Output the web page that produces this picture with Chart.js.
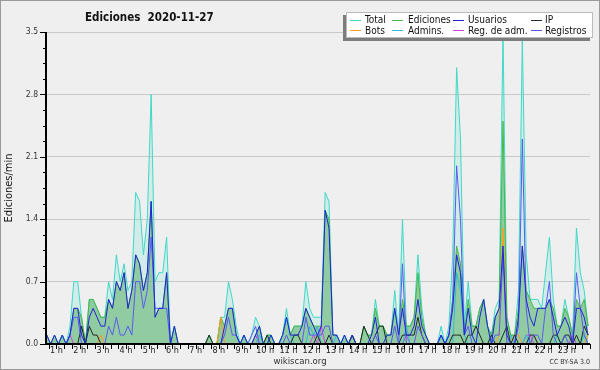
<!DOCTYPE html>
<html>
<head>
<meta charset="utf-8">
<script src="https://cdn.jsdelivr.net/npm/chart.js@4/dist/chart.umd.min.js"></script>
<style>
  html, body { margin: 0; padding: 0; background: #efefef; }
</style>
</head>
<body>
<canvas id="chart" width="600" height="370"></canvas>
<script>
// edits per minute, one value per 10-minute slot (00:00 ... 23:50)
const total = [
  0,0,0,0.1,0,0.1, 0,0.1,0,0.2,0.7,0.7,
  0.3,0,0.5,0.5,0.4,0.3, 0.3,0.7,0.5,1.0,0.7,0.9,
  0.6,0.7,1.7,1.6,1.0,1.4, 2.8,0.7,0.8,0.8,1.2,0,
  0.2,0,0,0,0,0, 0,0,0,0.1,0,0,
  0.3,0.3,0.7,0.5,0.2,0, 0.1,0,0.1,0.3,0.2,0,
  0.1,0.1,0,0,0.1,0.4, 0.1,0.2,0.2,0.2,0.7,0.4,
  0.3,0.3,0.3,1.7,1.6,0.1, 0.1,0,0.1,0,0.1,0,
  0,0.2,0.1,0.1,0.5,0.2, 0.2,0.1,0.1,0.6,0.1,1.4,
  0.2,0.2,0.3,1.0,0.4,0.1, 0,0,0,0.2,0,0.2,
  1.0,3.1,2.3,0.2,0.7,0.2, 0.2,0.4,0.5,0.2,0.1,0.4,
  0.5,3.5,0.3,0.1,0.1,0.6, 3.4,1.0,0.5,0.5,0.5,0.4,
  0.8,1.2,0.5,0.2,0.2,0.5, 0.3,0.1,1.3,0.8,0.6,0.2
];
const ediciones = [
  0,0,0,0.1,0,0.1, 0,0.1,0,0.1,0.4,0.4,
  0.3,0,0.5,0.5,0.4,0.3, 0.3,0.5,0.4,0.7,0.6,0.8,
  0.4,0.6,1.0,0.9,0.6,0.8, 1.6,0.3,0.4,0.4,0.8,0,
  0.2,0,0,0,0,0, 0,0,0,0.1,0,0,
  0.3,0.2,0.4,0.4,0.1,0, 0.1,0,0,0.1,0.2,0,
  0.1,0.1,0,0,0.1,0.3, 0.1,0.2,0.2,0.2,0.4,0.3,
  0.2,0.2,0.2,1.5,1.4,0.1, 0.1,0,0.1,0,0.1,0,
  0,0.2,0.1,0.1,0.4,0.2, 0.2,0.1,0.1,0.4,0.1,0.5,
  0.2,0.2,0.3,0.8,0.3,0.1, 0,0,0,0.1,0,0.1,
  0.5,1.1,0.9,0.1,0.5,0.2, 0.2,0.4,0.5,0.2,0.1,0.3,
  0.4,2.5,0.3,0.1,0.1,0.4, 1.1,0.6,0.5,0.4,0.4,0.4,
  0.4,0.5,0.4,0.2,0.2,0.4, 0.3,0.1,0.5,0.4,0.5,0.2
];
const usuarios = [
  0,0,0,0.1,0,0.1, 0,0.1,0,0.1,0.4,0.4,
  0.1,0,0.3,0.4,0.3,0.2, 0.2,0.5,0.4,0.7,0.6,0.8,
  0.4,0.6,1.0,0.9,0.6,0.8, 1.6,0.3,0.4,0.4,0.8,0,
  0.2,0,0,0,0,0, 0,0,0,0,0,0,
  0,0.2,0.4,0.4,0.1,0, 0.1,0,0,0.1,0.2,0,
  0,0.1,0,0,0.1,0.3, 0.1,0.1,0.1,0.2,0.4,0.3,
  0.2,0.1,0.2,1.5,1.3,0.1, 0.1,0,0.1,0,0.1,0,
  0,0,0,0.1,0.3,0, 0,0.1,0.1,0.4,0.1,0.4,
  0.1,0.1,0.2,0.5,0.2,0.1, 0,0,0,0.1,0,0.1,
  0.4,1.0,0.8,0.1,0.4,0.1, 0,0.3,0.5,0.2,0,0.3,
  0.4,1.1,0.1,0,0,0.3, 1.1,0.5,0.3,0.2,0.4,0.4,
  0.4,0.5,0.3,0.1,0.2,0.3, 0.2,0,0.4,0.4,0.3,0.1
];
const ip = [
  0,0,0,0,0,0, 0,0,0,0,0,0,
  0.2,0,0.2,0.1,0.1,0, 0,0,0,0,0,0,
  0,0,0,0,0,0, 0,0,0,0,0,0,
  0,0,0,0,0,0, 0,0,0,0.1,0,0,
  0,0,0,0,0,0, 0,0,0,0,0,0,
  0.1,0,0,0,0,0, 0,0.1,0.1,0,0,0,
  0,0.1,0,0,0.1,0, 0,0,0,0,0.1,0,
  0,0.2,0.1,0,0.1,0.2, 0.2,0,0,0,0,0.1,
  0.1,0.1,0.1,0.3,0.1,0, 0,0,0,0,0,0,
  0.1,0.1,0.1,0,0.1,0.1, 0.2,0.1,0,0,0.1,0,
  0,0.1,0.2,0,0.1,0, 0,0,0.1,0.1,0,0,
  0,0,0.1,0.1,0,0.1, 0.1,0,0.1,0,0.2,0.1
];
const bots = [
  0,0,0,0,0,0, 0,0,0,0,0,0,
  0,0,0,0,0,0.1, 0,0,0,0,0,0,
  0,0,0,0,0,0, 0,0,0,0,0,0,
  0,0,0,0,0,0, 0,0,0,0,0,0,
  0.3,0,0,0,0,0, 0,0,0,0,0,0,
  0,0,0,0,0,0, 0,0,0,0,0,0,
  0,0,0,0,0,0, 0,0,0,0,0,0,
  0,0,0,0,0,0, 0,0,0,0,0,0,
  0,0,0,0,0,0, 0,0,0,0,0,0,
  0,0,0,0,0,0, 0,0,0,0,0,0,
  0.1,1.3,0,0,0.1,0.1, 0,0,0,0.1,0,0,
  0,0,0,0,0,0, 0,0,0,0,0,0.1
];
const admins = [
  0,0,0,0,0,0, 0,0.1,0,0,0,0,
  0,0,0,0,0,0, 0,0,0,0,0,0,
  0,0,0,0,0,0, 0,0,0,0,0,0,
  0,0,0,0,0,0, 0,0,0,0,0,0,
  0,0,0,0,0,0, 0.1,0,0,0,0.1,0,
  0,0.1,0,0,0.1,0.3, 0.1,0,0,0,0,0.2,
  0.1,0.2,0,0,0,0, 0.1,0,0.1,0,0,0,
  0,0,0,0,0,0, 0,0,0,0,0,0,
  0.2,0,0,0,0,0, 0,0,0,0.1,0,0,
  0,0.8,0.6,0.1,0,0, 0,0,0,0,0.1,0,
  0,0,0,0.1,0,0, 0,0.1,0,0.1,0,0,
  0,0,0,0.1,0,0, 0,0,0,0,0.1,0
];
const regAdm = [
  0,0,0,0,0,0, 0,0,0,0.1,0,0,
  0,0,0,0,0,0, 0,0,0,0,0,0,
  0,0,0,0,0,0, 0,0,0,0,0,0,
  0,0,0,0,0,0, 0,0,0,0,0,0,
  0,0,0,0,0,0, 0,0,0,0.1,0,0,
  0,0,0,0,0,0, 0,0,0,0,0,0,
  0.1,0,0.2,0,0,0, 0,0,0,0,0,0,
  0,0,0,0,0,0, 0,0,0,0,0,0,
  0.1,0,0,0,0,0, 0,0,0,0,0,0,
  0,0,0,0,0,0, 0,0,0,0,0,0,
  0,0,0,0,0,0, 0,0.1,0.1,0,0,0,
  0,0,0,0,0,0, 0,0.1,0,0,0,0
];
const registros = [
  0,0,0,0,0,0, 0,0,0,0.1,0.3,0.3,
  0,0,0,0,0,0, 0,0.2,0.1,0.3,0.1,0.1,
  0.2,0.1,0.7,0.7,0.4,0.6, 1.2,0.4,0.4,0.4,0.4,0,
  0,0,0,0,0,0, 0,0,0,0,0,0,
  0,0.1,0.3,0.1,0.1,0, 0,0,0.1,0.2,0,0,
  0,0,0,0,0,0.1, 0,0,0,0,0.3,0.1,
  0.1,0.1,0.1,0.2,0.2,0, 0,0,0,0,0,0,
  0,0,0,0,0.1,0, 0,0,0,0.2,0,0.9,
  0,0,0,0.2,0.1,0, 0,0,0,0.1,0,0.1,
  0.5,2.0,1.4,0.1,0.2,0, 0,0,0,0,0,0.1,
  0.1,1.0,0,0,0,0.2, 2.3,0.4,0,0.1,0.1,0,
  0.4,0.7,0.1,0,0,0.1, 0,0,0.8,0.4,0.1,0
];

// slot centres in hours
const slotHours = total.map((_, i) => (i * 10 + 5) / 60);
const yMajorTicks = [0, 0.7, 1.4, 2.1, 2.8, 3.5];

const FONT = "'DejaVu Sans Condensed', 'DejaVu Sans', sans-serif";
Chart.defaults.font.family = FONT;

const series = [
  { label: 'Total',        data: total,     color: '#3fd9c8', fill: 'rgba(64,224,208,0.16)', order: 9 },
  { label: 'Ediciones',    data: ediciones, color: '#48b848', fill: 'rgba(80,170,90,0.5)',   order: 8 },
  { label: 'Usuarios',     data: usuarios,  color: '#2222dd', order: 1 },
  { label: 'IP',           data: ip,        color: '#1d2b22', order: 3 },
  { label: 'Bots',         data: bots,      color: '#ff9a22', order: 4 },
  { label: 'Admins.',      data: admins,    color: '#2fbcd8', order: 5 },
  { label: 'Reg. de adm.', data: regAdm,    color: '#cc44dd', order: 6 },
  { label: 'Registros',    data: registros, color: '#5a5af2', order: 2 }
];

const isMajor = v => yMajorTicks.some(m => Math.abs(m - v) < 1e-6);

const decor = {
  id: 'decor',
  beforeDraw(chart) {
    const { ctx, width, height } = chart;
    ctx.save();
    ctx.fillStyle = '#efefef';
    ctx.fillRect(0, 0, width, height);
    ctx.strokeStyle = '#9a9a9a';
    ctx.lineWidth = 1;
    ctx.strokeRect(0.5, 0.5, width - 1, height - 1);
    ctx.restore();
  },
  afterDatasetsDraw(chart) {
    const { ctx, chartArea: a, scales: { x, y } } = chart;
    ctx.save();
    // axes
    ctx.strokeStyle = '#000';
    ctx.lineWidth = 2;
    ctx.beginPath();
    ctx.moveTo(a.left, a.top);
    ctx.lineTo(a.left, a.bottom);
    ctx.lineTo(a.right, a.bottom);
    ctx.stroke();
    ctx.lineWidth = 1;
    ctx.beginPath();
    y.ticks.forEach(t => {
      const py = Math.round(y.getPixelForValue(t.value)) + 0.5;
      const len = isMajor(t.value) ? 6 : 3;
      ctx.moveTo(a.left - len, py);
      ctx.lineTo(a.left, py);
    });
    x.ticks.forEach(t => {
      const px = Math.round(x.getPixelForValue(t.value)) + 0.5;
      ctx.moveTo(px, a.bottom);
      ctx.lineTo(px, a.bottom + 5);
    });
    ctx.stroke();

    // texts
    ctx.fillStyle = '#111';
    ctx.font = 'bold 11.5px ' + FONT;
    ctx.textAlign = 'left';
    ctx.textBaseline = 'alphabetic';
    ctx.fillText('Ediciones  2020-11-27', 85, 21);

    ctx.font = '11px ' + FONT;
    ctx.save();
    ctx.translate(12, (a.top + a.bottom) / 2);
    ctx.rotate(-Math.PI / 2);
    ctx.textAlign = 'center';
    ctx.fillText('Ediciones/min', 0, 0);
    ctx.restore();

    ctx.fillStyle = '#333';
    ctx.font = '9.5px ' + FONT;
    ctx.textAlign = 'center';
    ctx.fillText('wikiscan.org', 300, 364);
    ctx.font = '7px ' + FONT;
    ctx.textAlign = 'right';
    ctx.fillText('CC BY-SA 3.0', 590, 364);

    // legend box
    const bx = 346, by = 12, bw = 247, bh = 26;
    ctx.fillStyle = '#7d7d7d';
    ctx.fillRect(bx - 3, by + 3, bw, bh);
    ctx.fillStyle = '#fff';
    ctx.fillRect(bx, by, bw, bh);
    ctx.strokeStyle = '#bbb';
    ctx.strokeRect(bx + 0.5, by + 0.5, bw - 1, bh - 1);
    const lineX = [350, 392, 453, 531];
    const textX = [365, 408, 468, 545];
    ctx.font = '10px ' + FONT;
    ctx.textAlign = 'left';
    chart.data.datasets.forEach((ds, i) => {
      const col = i % 4, row = Math.floor(i / 4);
      const ly = by + 7.5 + row * 10.5;
      ctx.strokeStyle = ds.borderColor;
      ctx.beginPath();
      ctx.moveTo(lineX[col], Math.round(ly) + 0.5);
      ctx.lineTo(lineX[col] + 11, Math.round(ly) + 0.5);
      ctx.stroke();
      ctx.fillStyle = '#111';
      ctx.fillText(ds.label, textX[col], ly + 3.5);
    });
    ctx.restore();
  }
};

new Chart(document.getElementById('chart'), {
  type: 'line',
  data: {
    labels: slotHours,
    datasets: series.map(s => ({
      label: s.label,
      data: s.data,
      borderColor: s.color,
      backgroundColor: s.fill || s.color,
      fill: s.fill ? 'origin' : false,
      borderWidth: 1,
      pointRadius: 0,
      tension: 0,
      order: s.order
    }))
  },
  options: {
    responsive: false,
    animation: false,
    layout: { padding: { left: 0, right: 10, top: 32, bottom: 0 } },
    plugins: { legend: { display: false }, tooltip: { enabled: false } },
    scales: {
      x: {
        type: 'linear',
        min: 0.55,
        max: 24,
        afterFit: s => { s.height = 26; },
        grid: { display: false, drawTicks: false },
        border: { display: false },
        ticks: {
          stepSize: 1 / 3,
          includeBounds: false,
          autoSkip: false,
          maxRotation: 0,
          minRotation: 0,
          padding: 1,
          color: '#222',
          font: { size: 9 },
          callback: v => {
            const h = Math.round(v);
            return Math.abs(v - h) < 0.01 && h > 0 && h < 24 ? h + ' h' : '';
          }
        }
      },
      y: {
        min: 0,
        max: 3.5,
        afterFit: s => { s.width = 46; },
        grid: {
          drawTicks: false,
          color: c => isMajor(c.tick.value) ? '#c9c9c9' : 'rgba(0,0,0,0)'
        },
        border: { display: false },
        ticks: {
          stepSize: 0.175,
          autoSkip: false,
          padding: 8,
          color: '#333',
          font: { size: 8.5 },
          callback: v => isMajor(v) ? v.toFixed(1) : ''
        }
      }
    }
  },
  plugins: [decor]
});
</script>
</body>
</html>
